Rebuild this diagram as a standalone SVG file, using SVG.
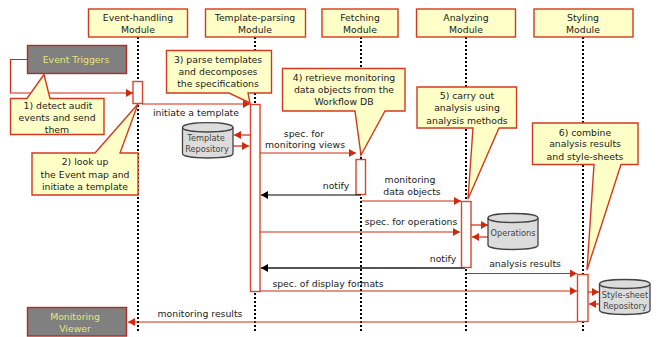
<svg xmlns="http://www.w3.org/2000/svg" width="661" height="337" viewBox="0 0 661 337">
<style>
text{font-family:"DejaVu Sans",Verdana,sans-serif;font-size:9.3px;fill:#222;text-anchor:middle}
.box{fill:#ffffc8;stroke:#d23a20;stroke-width:1.4}
.ext{fill:#808080;stroke:#b52a22;stroke-width:1.4}
.yt{fill:#e6e67a}
.act{fill:#fff;stroke:#d8452c;stroke-width:1.4}
.life{stroke:#000;stroke-width:2;stroke-dasharray:2 2;fill:none}
.r{stroke:#cc2a10;stroke-width:1.2;fill:none;marker-end:url(#ra)}
.k{stroke:#000;stroke-width:1.2;fill:none;marker-end:url(#ka)}
.g{stroke:#555;stroke-width:1.8;fill:none;marker-end:url(#ka)}
.cyl{fill:#dcdcdc;stroke:#444;stroke-width:1.3}
text.cl{font-size:8.2px;fill:#444}
</style>
<defs>
<marker id="ra" markerUnits="userSpaceOnUse" markerWidth="8" markerHeight="8" refX="7" refY="4" orient="auto"><path d="M0 0L7 4L0 8Z" fill="#cc2a10"/></marker>
<marker id="ka" markerUnits="userSpaceOnUse" markerWidth="8" markerHeight="8" refX="7" refY="4" orient="auto"><path d="M0 0L7 4L0 8Z" fill="#000"/></marker>
</defs>
<rect width="661" height="337" fill="#fff"/>
<g id="lifelines">
<path class="life" d="M138 37V333M255 37V333M361 37V333M466 37V333M583 37V333"/>
</g>
<g id="mod-event"><rect class="box" x="88.500" y="9" width="99" height="28"/><text x="138" y="21">Event-handling</text><text x="138" y="33">Module</text></g>
<g id="mod-template"><rect class="box" x="205.500" y="9" width="100" height="28"/><text x="255" y="21">Template-parsing</text><text x="255" y="33">Module</text></g>
<g id="mod-fetch"><rect class="box" x="322" y="9" width="76" height="28"/><text x="360" y="21">Fetching</text><text x="360" y="33">Module</text></g>
<g id="mod-analyze"><rect class="box" x="416.500" y="9" width="99" height="28"/><text x="466" y="21">Analyzing</text><text x="466" y="33">Module</text></g>
<g id="mod-style"><rect class="box" x="534" y="9" width="99" height="28"/><text x="583" y="21">Styling</text><text x="583" y="33">Module</text></g>
<g id="event-triggers"><rect class="ext" x="27.500" y="45.500" width="99" height="28"/><text class="yt" x="76" y="63">Event Triggers</text></g>
<g id="monitoring-viewer"><rect class="ext" x="27.500" y="307.500" width="99" height="28.500"/><text class="yt" x="75" y="320">Monitoring</text><text class="yt" x="75" y="332">Viewer</text></g>
<g id="act-event"><rect class="act" x="133" y="81.500" width="9.500" height="22"/></g>
<g id="act-template"><rect class="act" x="250.500" y="104.500" width="9.500" height="187"/></g>
<g id="act-fetch"><rect class="act" x="356" y="159.500" width="9.500" height="35"/></g>
<g id="act-analyze"><rect class="act" x="461.500" y="201.500" width="9.500" height="66"/></g>
<g id="act-style"><rect class="act" x="577.500" y="274.500" width="10.500" height="47"/></g>
<g id="connectors">
<path class="r" d="M28 59.500H10.500V93H133"/>
<path class="r" d="M142 104H250"/>
<path class="r" d="M250 135H234"/>
<path class="r" d="M233 146H249"/>
<path class="r" d="M260 153H356"/>
<path class="k" d="M361 195H261"/>
<path class="r" d="M361 201H461"/>
<path class="r" d="M260 232H460"/>
<path class="g" d="M465 268H261"/>
<path class="r" d="M467 273.500H577"/>
<path class="r" d="M260 291H577"/>
<path class="r" d="M577 322H128"/>
<path class="r" d="M471 225H488"/>
<path class="r" d="M488 237H472"/>
<path class="r" d="M588 292H599"/>
<path class="r" d="M599 304H589"/>
</g>
<g id="labels">
<text x="196" y="116">initiate a template</text>
<text x="304" y="137">spec. for</text><text x="305" y="148">monitoring views</text>
<text x="336" y="189">notify</text>
<text x="410" y="183">monitoring</text><text x="412" y="195">data objects</text>
<text x="411" y="225">spec. for operations</text>
<text x="443" y="262">notify</text>
<text x="525" y="267">analysis results</text>
<text x="328" y="287">spec. of display formats</text>
<text x="200" y="317">monitoring results</text>
</g>
<g id="repo-template"><path class="cyl" d="M182.500 127.500C182.500 121 233 121 233 127.500V153.500C233 159.500 182.500 159.500 182.500 153.500Z"/><path d="M182.500 127.500C182.500 133.500 233 133.500 233 127.500" fill="none" stroke="#444" stroke-width="1.3"/><text class="cl" x="206" y="141">Template</text><text class="cl" x="207" y="152">Repository</text></g>
<g id="repo-operations"><path class="cyl" d="M488 218C488 212 538 212 538 218V245C538 251 488 251 488 245Z"/><path d="M488 218C488 224 538 224 538 218" fill="none" stroke="#444" stroke-width="1.3"/><text class="cl" x="513" y="236">Operations</text></g>
<g id="repo-style"><path class="cyl" d="M599.500 284C599.500 278 650 278 650 284V310C650 316 599.500 316 599.500 310Z"/><path d="M599.500 284C599.500 290 650 290 650 284" fill="none" stroke="#444" stroke-width="1.3"/><text class="cl" x="625" y="298">Style-sheet</text><text class="cl" x="625" y="309">Repository</text></g>
<g id="note1"><path class="box" d="M10.500 98.500H27L44 74.500L50 98.500H104V134.500H10.500Z"/><text x="58" y="109">1) detect audit</text><text x="57" y="121">events and send</text><text x="57" y="133">them</text></g>
<g id="note2"><path class="box" d="M32 153H95L138 104L120 153H138V195H32Z"/><text x="85" y="165">2) look up</text><text x="85" y="178">the Event map and</text><text x="85" y="190">initiate a template</text></g>
<g id="note3"><path class="box" d="M166.500 50.500H271.500V93H248L250 103L229 93H166.500Z"/><text x="218" y="63">3) parse templates</text><text x="218" y="75">and decomposes</text><text x="218" y="87">the specifications</text></g>
<g id="note4"><path class="box" d="M282.500 68.500H405V111H385L361 155L355 111H282.500Z"/><text x="344" y="81">4) retrieve monitoring</text><text x="344" y="93">data objects from the</text><text x="344" y="105">Workflow DB</text></g>
<g id="note5"><path class="box" d="M417 87H516.500V128H499L468 199L473 128H417Z"/><text x="467" y="99">5) carry out</text><text x="467" y="111">analysis using</text><text x="467" y="124">analysis methods</text></g>
<g id="note6"><path class="box" d="M532.500 123H638V164.500H621L587 270L594 164.500H532.500Z"/><text x="585" y="136">6) combine</text><text x="585" y="147">analysis results</text><text x="585" y="160">and style-sheets</text></g>
</svg>
